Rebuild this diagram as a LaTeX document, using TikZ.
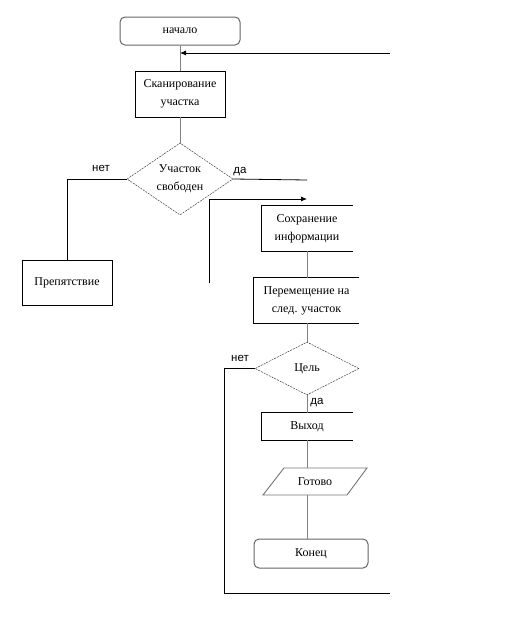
\documentclass[tikz,border=0pt]{standalone}
\usepackage{fontspec}
\setmainfont{Liberation Serif}
\newfontfamily\labfont{Liberation Sans}
\usetikzlibrary{shapes.geometric,arrows.meta,calc}
\begin{document}
\begin{tikzpicture}[x=1pt,y=-1pt,
  txt/.style={font=\fontsize{12}{18}\selectfont, align=center, inner sep=0pt},
  term/.style={txt, draw=black!60, line width=1pt, rounded corners=5pt},
  procbox/.style={txt, draw=black, line width=0.8pt},
  openbox/.style={txt},
  boxline/.style={draw=black, line width=0.8pt},
  decision/.style={txt, diamond, aspect=1.47, draw=black!75, line width=0.5pt, dash pattern=on 2pt off 1pt},
  conn/.style={draw=black!50, line width=1pt},
  thinconn/.style={draw=black!50, line width=0.6pt},
  bline/.style={draw=black, line width=0.8pt},
  lab/.style={font=\labfont\fontsize{11.5}{13}\selectfont, inner sep=0pt},
  tip/.style={-{Latex[length=6pt,width=5pt]}}
]
\useasboundingbox (0,0) rectangle (532,632);

% nodes
\node[term, minimum width=120pt, minimum height=28pt] (start) at (180,31) {начало};
\node[procbox, minimum width=90pt, minimum height=46pt] (scan) at (180,94) {Сканирование\\участка};
\node[decision, minimum width=106pt, minimum height=72pt] (d1) at (180,179) {Участок\\свободен};
\node[procbox, minimum width=90pt, minimum height=45pt] (obst) at (67,282.5) {Препятствие};
\node[openbox, minimum width=91pt, minimum height=45pt] (save) at (307,228.5) {Сохранение\\информации};
\node[openbox, minimum width=105pt, minimum height=45pt] (move) at (306.5,300.5) {Перемещение на\\след. участок};
\node[decision, minimum width=104pt, minimum height=53pt] (goal) at (307,368.5) {Цель};
\node[openbox, minimum width=91pt, minimum height=27pt] (exit) at (307,426.5) {Выход};
\node[txt] (done) at (315,481.5) {Готово};
\node[term, minimum width=114pt, minimum height=29pt] (fin) at (311,553.5) {Конец};

% open-right boxes
\draw[boxline] (save.north east) -- (save.north west) -- (save.south west) -- (save.south east);
\draw[boxline] (move.north east) -- (move.north west) -- (move.south west) -- (move.south east);
\draw[boxline] (exit.north east) -- (exit.north west) -- (exit.south west) -- (exit.south east);

% parallelogram
\draw[draw=black!55, line width=0.9pt] ($(done.center)+(-31,-13.5)$) -- ($(done.center)+(52,-13.5)$)
  -- ($(done.center)+(32,13.5)$) -- ($(done.center)+(-52,13.5)$) -- cycle;

% coordinates for free ends
\coordinate (in1) at (390,53);
\coordinate (yes1) at (307,180);
\coordinate (l1) at (209,283);
\coordinate (l2) at (307,199);
\coordinate (r1) at (224,593);
\coordinate (r2) at (390,593);

% connectors
\draw[conn] (start.south) -- (scan.north);
\draw[conn] (scan.south) -- (d1.north);
\draw[bline, tip] (in1) -- (in1 -| start.south);
\draw[bline] (d1.west) -| (obst.north);
\draw[bline] (d1.east) -- (yes1);
\draw[bline, tip] (l1) |- (l2);
\draw[thinconn] (save.south) -- (move.north -| save.south);
\draw[thinconn] (move.south -| goal.north) -- (goal.north);
\draw[thinconn] (goal.south) -- (exit.north);
\draw[thinconn] (exit.south) -- ($(exit.south |- done.center)+(0,-13.5)$);
\draw[thinconn] ($(exit.south |- done.center)+(0,13.5)$) -- (exit.south |- fin.north);
\draw[bline] (goal.west) -| (r1) -- (r2);

% labels
\node[lab] (no1) at (101,168) {нет};
\node[lab] (yes1l) at (240,172) {да};
\node[lab] (no2) at (240,358) {нет};
\node[lab] (yes2l) at (317,403) {да};
\end{tikzpicture}
\end{document}
